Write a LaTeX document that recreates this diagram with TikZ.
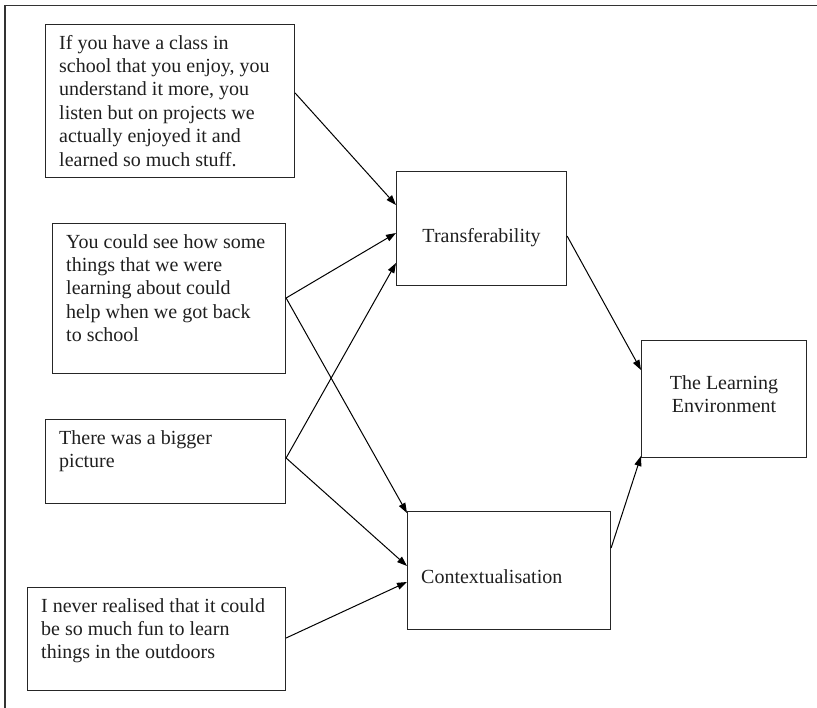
\documentclass[tikz,border=0pt]{standalone}
\usepackage{fontspec}
\setmainfont{Liberation Serif}
\usetikzlibrary{arrows.meta}
\tikzset{
  qbox/.style={draw=black!85, line width=1.1pt, inner sep=0pt, anchor=north west},
  qtext/.style={inner sep=0pt, align=left, anchor=north west, text=black!88,
    font=\fontsize{20}{23.4}\selectfont},
  ctext/.style={inner sep=0pt, text=black!88, font=\fontsize{20}{23.4}\selectfont},
  link/.style={draw=black, line width=1pt, -{Triangle[length=10pt,width=7pt]}},
}
\begin{document}
\begin{tikzpicture}[x=1pt,y=-1pt]
\useasboundingbox (0,0) rectangle (817,708);
\draw[draw=black!80, line width=1.2pt] (5,708) -- (5,5.5) -- (817,5.5);

% quote boxes
\node[qbox, minimum width=249pt, minimum height=153pt] (q1) at (45,24) {};
\node[qbox, minimum width=233pt, minimum height=150pt] (q2) at (52,223) {};
\node[qbox, minimum width=240pt, minimum height=84pt] (q3) at (45,419) {};
\node[qbox, minimum width=258pt, minimum height=103pt] (q4) at (27,587) {};

\node[qtext] (q1t) at ([shift={(14,8.6)}]q1.north west)
  {\strut If you have a class in\\school that you enjoy, you\\understand it more, you\\listen but on projects we\\actually enjoyed it and\\learned so much stuff.};
\node[qtext] (q2t) at ([shift={(14,8.6)}]q2.north west)
  {\strut You could see how some\\things that we were\\learning about could\\help when we got back\\to school};
\node[qtext] (q3t) at ([shift={(14,8.6)}]q3.north west)
  {\strut There was a bigger\\picture};
\node[qtext] (q4t) at ([shift={(14,8.6)}]q4.north west)
  {\strut I never realised that it could\\be so much fun to learn\\things in the outdoors};

% theme boxes
\node[qbox, minimum width=170pt, minimum height=114pt] (T) at (396,171) {};
\node[qbox, minimum width=203pt, minimum height=118pt] (C) at (407,511) {};
\node[qbox, minimum width=165pt, minimum height=117pt] (LE) at (641,340) {};

\node[ctext, anchor=base] (Tt) at ([shift={(0,72)}]T.north) {Transferability};
\node[ctext, anchor=base west] (Ct) at ([shift={(14,72)}]C.north west) {Contextualisation};
\node[ctext, anchor=north, align=center] (LEt) at ([shift={(0,32.6)}]LE.north)
  {\strut The Learning\\Environment};

% connectors
\draw[link] ([shift={(0,69)}]q1.north east) -- ([shift={(0,34)}]T.north west);
\draw[link] ([shift={(0,75)}]q2.north east) -- ([shift={(0,62)}]T.north west);
\draw[link] ([shift={(0,39)}]q3.north east) -- ([shift={(0,92)}]T.north west);
\draw[link] ([shift={(0,75)}]q2.north east) -- ([shift={(0,2)}]C.north west);
\draw[link] ([shift={(0,39)}]q3.north east) -- ([shift={(0,55)}]C.north west);
\draw[link] ([shift={(0,51)}]q4.north east) -- ([shift={(0,71)}]C.north west);
\draw[link] ([shift={(0,65)}]T.north east) -- ([shift={(0,30)}]LE.north west);
\draw[link] ([shift={(0,37)}]C.north east) -- ([shift={(0,116)}]LE.north west);
\end{tikzpicture}
\end{document}
